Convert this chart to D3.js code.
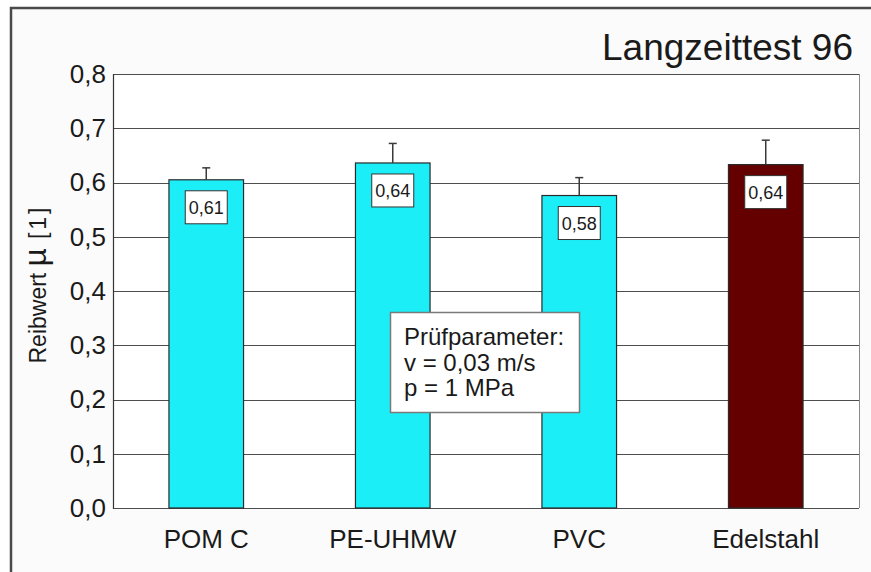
<!DOCTYPE html>
<html>
<head>
<meta charset="utf-8">
<script src="https://cdn.jsdelivr.net/npm/d3@7"></script>
<style>
body { margin: 0; background: #fff; }
text { font-family: "Liberation Sans", Arial, sans-serif; fill: #1a1a1a; }
</style>
</head>
<body>
<div id="chart"></div>
<script>
var categories = ["POM C", "PE-UHMW", "PVC", "Edelstahl"];
var means = [0.605, 0.636, 0.576, 0.633];
var errors = [0.022, 0.036, 0.033, 0.045];
var valueLabels = ["0,61", "0,64", "0,58", "0,64"];
var barColors = ["#1ceef8", "#1ceef8", "#1ceef8", "#640000"];
var yTicks = [0, 0.1, 0.2, 0.3, 0.4, 0.5, 0.6, 0.7, 0.8];
var noteLines = ["Prüfparameter:", "v = 0,03 m/s", "p = 1 MPa"];
var title = "Langzeittest 96";

function init() {
    var w = 871;
    var h = 572;
    var left = 113, right = 859, top = 74, bottom = 508;

    var svg = d3.select("#chart")
                .append("svg")
                .attr("width", w)
                .attr("height", h);

    // outer frame, runs off the right and bottom edge like in the scan
    svg.append("rect")
       .attr("x", 11).attr("y", 8)
       .attr("width", w + 20).attr("height", h + 20)
       .attr("fill", "#fbfbfb")
       .attr("stroke", "#4a4a4a")
       .attr("stroke-width", 2.5);

    var x = d3.scaleBand()
              .domain(categories)
              .range([left, right])
              .paddingInner(0.6)
              .paddingOuter(0.3);

    var y = d3.scaleLinear()
              .domain([0, 0.8])
              .range([bottom, top]);

    var comma = function(d) {
        return d3.format(".1f")(d).replace(".", ",");
    };

    // plot area
    svg.append("rect")
       .attr("x", left).attr("y", top)
       .attr("width", right - left).attr("height", bottom - top)
       .attr("fill", "#fff");

    svg.selectAll("line.grid")
       .data(yTicks)
       .enter()
       .append("line")
       .attr("class", "grid")
       .attr("x1", left).attr("x2", right)
       .attr("y1", function(d) { return Math.round(y(d)) + 0.5; })
       .attr("y2", function(d) { return Math.round(y(d)) + 0.5; })
       .attr("stroke", "#4d4d4d")
       .attr("stroke-width", 1.2);

    svg.append("line")
       .attr("x1", right + 0.5).attr("x2", right + 0.5)
       .attr("y1", top).attr("y2", bottom)
       .attr("stroke", "#8a8a8a");

    // bars
    var g = svg.selectAll("g.bar")
               .data(categories)
               .enter()
               .append("g")
               .attr("class", "bar");

    g.append("rect")
     .attr("x", function(d) { return x(d); })
     .attr("y", function(d, i) { return y(means[i]); })
     .attr("width", x.bandwidth())
     .attr("height", function(d, i) { return y(0) - y(means[i]); })
     .attr("fill", function(d, i) { return barColors[i]; })
     .attr("stroke", "#2a2a2a")
     .attr("stroke-width", 1.2);

    // error bars (upper half only)
    var cx = function(d) { return x(d) + x.bandwidth() / 2; };
    g.append("line")
     .attr("x1", cx).attr("x2", cx)
     .attr("y1", function(d, i) { return y(means[i]); })
     .attr("y2", function(d, i) { return y(means[i] + errors[i]); })
     .attr("stroke", "#3a3a3a")
     .attr("stroke-width", 1.5);
    g.append("line")
     .attr("x1", function(d) { return cx(d) - 4; })
     .attr("x2", function(d) { return cx(d) + 4; })
     .attr("y1", function(d, i) { return y(means[i] + errors[i]); })
     .attr("y2", function(d, i) { return y(means[i] + errors[i]); })
     .attr("stroke", "#3a3a3a")
     .attr("stroke-width", 1.5);

    // value boxes
    g.append("rect")
     .attr("x", function(d) { return cx(d) - 21; })
     .attr("y", function(d, i) { return y(means[i]) + 11; })
     .attr("width", 42)
     .attr("height", 33)
     .attr("fill", "#fff")
     .attr("stroke", "#333")
     .attr("stroke-width", 1);
    g.append("text")
     .attr("x", cx)
     .attr("y", function(d, i) { return y(means[i]) + 28; })
     .attr("text-anchor", "middle")
     .attr("dominant-baseline", "central")
     .style("font-size", "18px")
     .text(function(d, i) { return valueLabels[i]; });

    // axes
    var yAxis = svg.append("g")
                   .attr("transform", "translate(" + left + ",0)")
                   .call(d3.axisLeft(y).tickValues(yTicks).tickSize(0).tickPadding(7).tickFormat(comma));
    yAxis.select(".domain").remove();
    yAxis.selectAll("text").style("font-size", "26px").attr("fill", "#1a1a1a");

    svg.append("line")
       .attr("x1", left + 0.5).attr("x2", left + 0.5)
       .attr("y1", top).attr("y2", bottom + 1)
       .attr("stroke", "#333")
       .attr("stroke-width", 1.2);

    var xAxis = svg.append("g")
                   .attr("transform", "translate(0," + bottom + ")")
                   .call(d3.axisBottom(x).tickSize(0).tickPadding(22));
    xAxis.select(".domain").remove();
    xAxis.selectAll("text").style("font-size", "26px").attr("fill", "#1a1a1a");

    // y label
    var yl = svg.append("text")
                .attr("transform", "translate(46,284) rotate(-90)")
                .attr("text-anchor", "middle")
                .style("font-size", "23px");
    yl.append("tspan").text("Reibwert ");
    yl.append("tspan").style("font-size", "31px").text("µ");
    yl.append("tspan").attr("letter-spacing", "3px").text(" [1]");

    // title
    svg.append("text")
       .attr("x", 853).attr("y", 60)
       .attr("text-anchor", "end")
       .style("font-size", "37px")
       .text(title);

    // test parameter box
    svg.append("rect")
       .attr("x", 390.5).attr("y", 312.5)
       .attr("width", 189).attr("height", 100)
       .attr("fill", "#fff")
       .attr("stroke", "#7a7a7a")
       .attr("stroke-width", 1.5);
    svg.selectAll("text.note")
       .data(noteLines)
       .enter()
       .append("text")
       .attr("class", "note")
       .attr("x", 404)
       .attr("y", function(d, i) { return 345 + i * 25.5; })
       .style("font-size", "24px")
       .text(function(d) { return d; });
}
window.onload = init;
</script>
</body>
</html>
